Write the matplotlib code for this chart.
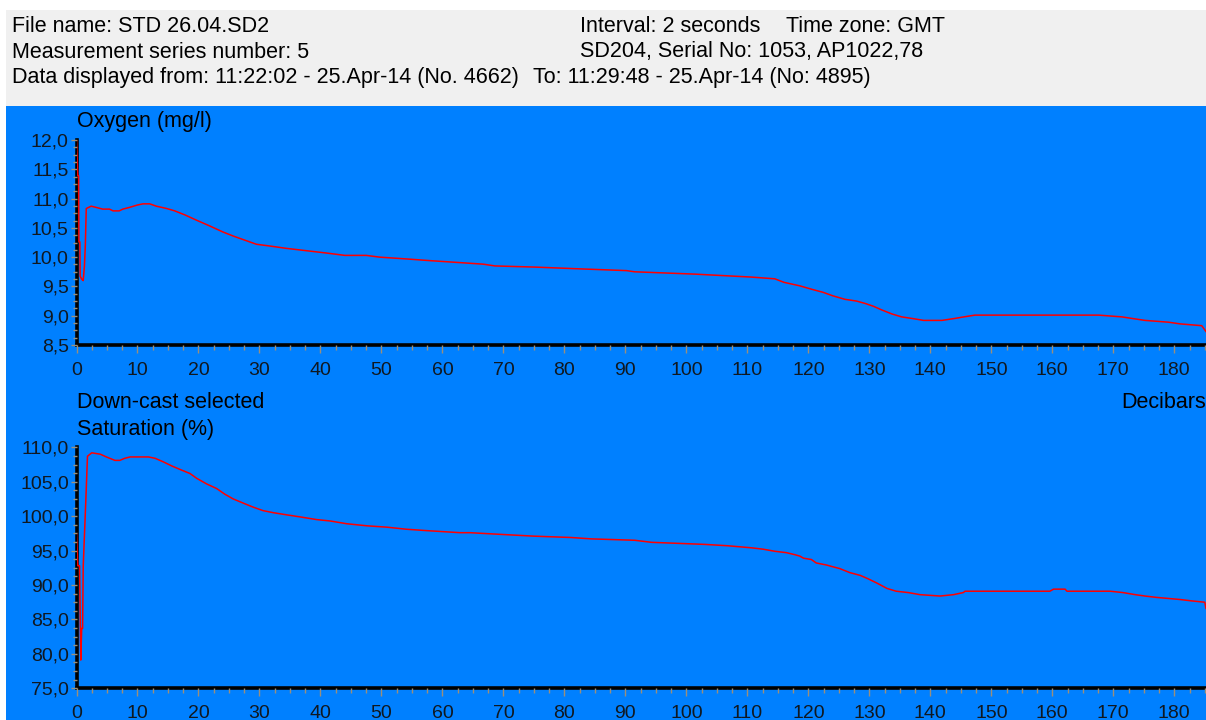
import matplotlib
matplotlib.use("Agg")
import matplotlib.pyplot as plt
from matplotlib.patches import Rectangle
from matplotlib.ticker import MultipleLocator, AutoMinorLocator, FuncFormatter

plt.rcParams['font.family'] = ['Liberation Sans', 'DejaVu Sans']

# Oxygen (mg/l) against pressure (decibars), down-cast
depth_oxy = [0, 0.2, 0.35, 0.4, 0.55, 0.6, 0.9, 1.1, 1.3, 1.45, 1.6, 2.4, 3.2, 4.3, 5.4,
             6.0, 7.0, 7.6, 8.7, 10.0, 10.9, 12.0, 13.1, 14.8, 16.1, 17.8, 19.7, 21.9,
             24.0, 25.7, 27.6, 29.5, 31.7, 34.4, 37.7, 41.0, 44.0, 47.5, 49.7, 54.0,
             58.0, 62.4, 66.7, 68.6, 75.2, 82.5, 90.2, 91.5, 101.4, 106.9, 110.6, 114.5,
             116.0, 118.6, 120.6, 122.4, 124.0, 126.0, 127.9, 129.3, 130.7, 132.0, 133.7,
             135.3, 137.2, 138.9, 141.9, 143.8, 145.5, 147.3, 167.6, 171.4, 173.3, 175.2,
             179.0, 181.0, 184.5, 185.2]
oxygen = [12.0, 11.39, 11.39, 10.26, 10.26, 9.67, 9.62, 9.60, 9.85, 10.21, 10.83, 10.87,
          10.85, 10.82, 10.82, 10.79, 10.79, 10.82, 10.85, 10.89, 10.91, 10.91, 10.87,
          10.83, 10.79, 10.72, 10.63, 10.53, 10.43, 10.36, 10.29, 10.22, 10.19, 10.15,
          10.11, 10.07, 10.03, 10.03, 10.0, 9.97, 9.94, 9.91, 9.88, 9.85, 9.83, 9.80,
          9.77, 9.75, 9.71, 9.68, 9.66, 9.63, 9.57, 9.51, 9.45, 9.40, 9.34, 9.28, 9.25,
          9.21, 9.16, 9.10, 9.03, 8.98, 8.95, 8.92, 8.92, 8.95, 8.98, 9.01, 9.01, 8.98,
          8.95, 8.92, 8.89, 8.86, 8.83, 8.73]

# Saturation (%) against pressure (decibars)
depth_sat = [0, 0.2, 0.5, 0.7, 0.85, 1.0, 1.1, 1.4, 1.55, 1.8, 2.5, 3.9, 4.9, 6.3, 7.1,
             7.9, 8.8, 11.8, 12.9, 14.2, 15.6, 17.2, 18.6, 19.7, 21.3, 23.0, 24.3, 25.7,
             27.6, 29.0, 30.6, 32.3, 34.4, 36.6, 39.4, 41.6, 44.3, 47.6, 50.9, 54.1,
             57.4, 62.9, 64.5, 68.6, 74.9, 81.1, 84.4, 91.5, 94.3, 103.0, 106.8, 110.7,
             112.6, 114.5, 116.4, 117.8, 118.6, 119.2, 120.5, 121.3, 123.0, 123.8, 125.1,
             126.8, 128.5, 129.8, 131.2, 132.9, 134.4, 136.4, 138.3, 141.6, 143.8, 145.4,
             145.7, 159.6, 160.2, 162.1, 162.4, 169.5, 171.6, 173.6, 175.2, 177.1, 180.9,
             182.8, 185.0, 185.2]
saturation = [97.5, 92.8, 92.8, 79.1, 83.7, 83.7, 92.7, 99.4, 102.8, 108.7, 109.2, 109.0,
              108.6, 108.1, 108.1, 108.4, 108.6, 108.6, 108.4, 107.9, 107.3, 106.7, 106.2,
              105.5, 104.7, 104.0, 103.2, 102.5, 101.8, 101.3, 100.8, 100.5, 100.2, 99.9,
              99.5, 99.3, 98.9, 98.6, 98.4, 98.1, 97.9, 97.6, 97.6, 97.4, 97.1, 96.9, 96.7,
              96.5, 96.2, 95.9, 95.7, 95.4, 95.2, 94.9, 94.7, 94.4, 94.2, 93.9, 93.7, 93.2,
              92.9, 92.7, 92.4, 91.8, 91.4, 90.9, 90.3, 89.5, 89.1, 88.9, 88.6, 88.4, 88.6,
              88.9, 89.1, 89.1, 89.4, 89.4, 89.1, 89.1, 88.9, 88.6, 88.4, 88.2, 87.9, 87.7,
              87.5, 86.6]

header_left = ["File name: STD 26.04.SD2",
               "Measurement series number: 5",
               "Data displayed from: 11:22:02 - 25.Apr-14 (No. 4662)"]

W, H = 1206, 720
BLUE = '#0080ff'
TICK = '#9c8f7a'
FS = 15.5

fig = plt.figure(figsize=(W / 100, H / 100), dpi=100)
fig.patch.set_facecolor('white')


def fx(px):
    return px / W


def fy(py):
    return 1 - py / H


# grey header band and blue plotting area
fig.add_artist(Rectangle((fx(6), fy(106)), fx(W - 6), 96 / H, transform=fig.transFigure,
                         facecolor='#f0f0f0', edgecolor='none', zorder=-10))
fig.add_artist(Rectangle((fx(6), 0), fx(W - 6), fy(106), transform=fig.transFigure,
                         facecolor=BLUE, edgecolor='none', zorder=-10))

for i, line in enumerate(header_left):
    fig.text(fx(12), fy(27 + 25 * i), line, fontsize=FS, va='center', ha='left')
fig.text(fx(580), fy(27), "Interval: 2 seconds", fontsize=FS, va='center')
fig.text(fx(786), fy(27), "Time zone: GMT", fontsize=FS, va='center')
fig.text(fx(580), fy(52), "SD204, Serial No: 1053, AP1022,78", fontsize=FS, va='center')
fig.text(fx(533), fy(77), "To: 11:29:48 - 25.Apr-14 (No: 4895)", fontsize=FS, va='center')

x0 = 76.5
left = fx(x0)
width = 1 - left
ax1 = fig.add_axes([left, fy(345), width, (345 - 140) / H])
ax2 = fig.add_axes([left, fy(688.3), width, (688.3 - 447.3) / H])

ax1.plot(depth_oxy, oxygen, color='#ff0000', lw=1.1)
ax2.plot(depth_sat, saturation, color='#ff0000', lw=1.1)

comma = FuncFormatter(lambda v, p: f"{v:.1f}".replace('.', ','))

for ax, lo, hi, step in [(ax1, 8.5, 12.0, 0.5), (ax2, 75.0, 110.0, 5.0)]:
    ax.set_facecolor('none')
    ax.set_xlim(0, 185.2)
    ax.set_ylim(lo, hi)
    ax.xaxis.set_major_locator(MultipleLocator(10))
    ax.xaxis.set_minor_locator(AutoMinorLocator(4))
    ax.yaxis.set_major_locator(MultipleLocator(step))
    ax.yaxis.set_minor_locator(AutoMinorLocator(4))
    ax.yaxis.set_major_formatter(comma)
    for side in ['top', 'right']:
        ax.spines[side].set_visible(False)
    for side in ['left', 'bottom']:
        ax.spines[side].set_linewidth(2.6)
        ax.spines[side].set_color('black')
        ax.spines[side].set_zorder(1)
    ax.tick_params(axis='x', which='major', length=6, width=1, color=TICK, pad=6,
                   labelsize=14, labelcolor='#101820')
    ax.tick_params(axis='x', which='minor', length=3.5, width=1, color=TICK)
    ax.tick_params(axis='y', which='major', length=4.5, width=1, color=TICK, pad=1,
                   labelsize=14, labelcolor='#101820')
    ax.tick_params(axis='y', which='minor', length=3, width=1, color=TICK)

fig.text(fx(77), fy(122), "Oxygen (mg/l)", fontsize=FS, va='center', ha='left')
fig.text(fx(77), fy(402), "Down-cast selected", fontsize=FS, va='center', ha='left')
fig.text(fx(1206), fy(402), "Decibars", fontsize=FS, va='center', ha='right')
fig.text(fx(77), fy(430), "Saturation (%)", fontsize=FS, va='center', ha='left')

fig.savefig('out.png', dpi=100, facecolor='white')
